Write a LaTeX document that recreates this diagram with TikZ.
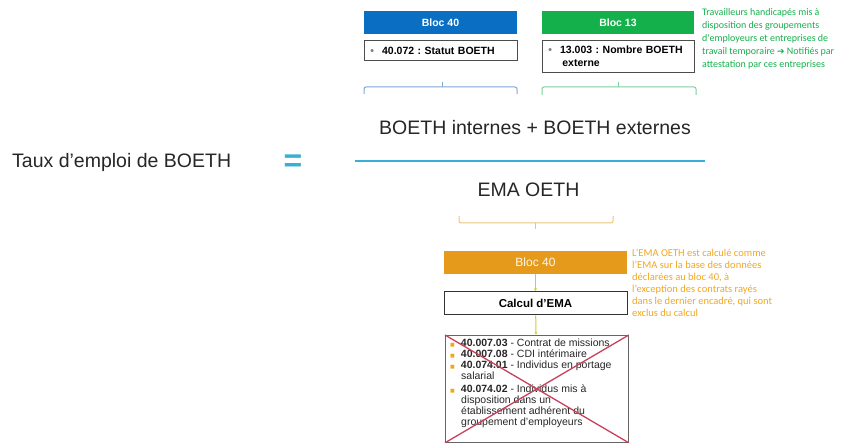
\documentclass[tikz,border=0pt]{standalone}
\usepackage{fontspec}
\setmainfont{Liberation Sans}
\newfontfamily\notefont{Carlito}
\newfontfamily\symbfont{DejaVu Sans}
\usetikzlibrary{positioning, arrows.meta}
\definecolor{bleu}{HTML}{0A6FC2}
\definecolor{vert}{HTML}{13B04B}
\definecolor{orange}{HTML}{E59A1C}
\definecolor{orangetxt}{HTML}{F2A61E}
\definecolor{ciel}{HTML}{3AAFD6}
\definecolor{accbleu}{HTML}{7FA6CF}
\definecolor{accvert}{HTML}{7CCF9C}
\definecolor{accorange}{HTML}{EDC47A}
\definecolor{fleche}{HTML}{C9D32A}
\definecolor{rouge}{HTML}{C9405A}
\newcommand{\puce}{\textcolor{orangetxt}{\symbfont\fontsize{5}{5}\selectfont ■}}
\frenchspacing

\begin{document}
\begin{tikzpicture}[x=1pt, y=-1pt,
  header/.style = {fill=#1, text=white, font=\fontsize{10.5}{12}\selectfont\bfseries, minimum height=23pt, inner sep=0pt},
  item/.style = {draw=black!70, line width=0.8pt, font=\fontsize{10.5}{12.5}\selectfont\bfseries, align=left, inner sep=0pt, anchor=north west},
  formule/.style = {font=\fontsize{19.5}{22}\selectfont, text=black!85},
  note/.style = {font=\notefont\fontsize{10}{13}\selectfont, text=#1, align=left, anchor=north west, inner sep=0pt},
  accolade/.style = {draw=#1, line width=1pt, rounded corners=2pt},
  arr/.style = {draw=fleche, line width=1pt, -{Latex[length=3pt,width=3pt]}}]
  \useasboundingbox (0,0) rectangle (849,443);
  % numerateur : blocs 40 et 13
  \node[header=bleu, minimum width=153pt] (bloc40) at (440.5,22.5) {Bloc 40};
  \node[item, text width=153pt, minimum height=20pt] (statut) at (364,40) {\hspace{6pt}\textcolor{black!50}{\textbullet}\hspace{8pt}40.072 : Statut BOETH};
  \node[header=vert, minimum width=152pt] (bloc13) at (618,22.5) {Bloc 13};
  \node[item, text width=152pt, minimum height=32pt] (externe) at (542,40) {\hspace{6pt}\textcolor{black!50}{\textbullet}\hspace{8pt}13.003 : Nombre BOETH\\\hspace{20pt}externe};
  \node[note=vert] (notevert) at (702,8) {Travailleurs handicapés mis à\\disposition des groupements\\d'employeurs et entreprises de\\travail temporaire {\symbfont\fontsize{9}{9}\selectfont ➔} Notifiés par\\attestation par ces entreprises};
  \draw[accolade=accbleu] (364,94) |- (517,87) -- (517,94);
  \draw[accbleu, line width=1pt] (442,87) -- (442,82);
  \draw[accolade=accvert] (542,95) |- (696,87) -- (696,95);
  \draw[accvert, line width=1pt] (618,87) -- (618,82);
  % formule
  \node[formule, anchor=west, inner sep=0pt] (taux) at (12,162) {Taux d’emploi de BOETH};
  \node[text=ciel, font=\fontsize{32}{32}\selectfont\bfseries, inner sep=0pt] (egal) at (293,163) {=};
  \node[formule] (num) at (535,128) {BOETH internes + BOETH externes};
  \coordinate (fracg) at (355,161);
  \coordinate (fracd) at (705,161);
  \draw[ciel, line width=1.3pt] (fracg) -- (fracd);
  \node[formule] (denom) at (528.5,190) {EMA OETH};
  \draw[accolade=accorange] (459,216) |- (613,223) -- (613,216);
  \draw[accorange, line width=1pt] (535,223) -- (535,229);
  % denominateur : calcul de l'EMA
  \node[fill=orange, text=white!92!orange, font=\fontsize{12}{14}\selectfont, minimum width=183pt, minimum height=23pt, inner sep=0pt] (bloc40o) at (535.5,262.5) {Bloc 40};
  \node[draw=black!80, line width=1pt, font=\fontsize{11.5}{13}\selectfont\bfseries, minimum width=183pt, minimum height=23pt, inner sep=0pt] (calcul) at (535.5,303.5) {Calcul d’EMA};
  \node[note=orangetxt, font=\notefont\fontsize{10.5}{12}\selectfont] (noteorange) at (632,249) {L’EMA OETH est calculé comme\\l’EMA sur la base des données\\déclarées au bloc 40, à\\l’exception des contrats rayés\\dans le dernier encadré, qui sont\\exclus du calcul};
  \node[draw=black!60, line width=0.8pt, anchor=north west, minimum width=183pt, minimum height=107pt, inner sep=0pt] (exclus) at (445,335) {};
  \node[anchor=north west, inner sep=0pt, align=left, font=\fontsize{10.5}{11}\selectfont, text=black!85] (liste) at (450,339) {%
    \puce\hspace{6pt}\textbf{40.007.03} - Contrat de missions\\
    \puce\hspace{6pt}\textbf{40.007.08} - CDI intérimaire\\
    \puce\hspace{6pt}\textbf{40.074.01} - Individus en portage\\
    \hspace{11pt}salarial\\[2pt]
    \puce\hspace{6pt}\textbf{40.074.02} - Individus mis à\\
    \hspace{11pt}disposition dans un\\
    \hspace{11pt}établissement adhérent du\\
    \hspace{11pt}groupement d’employeurs};
  \draw[rouge, line width=1.3pt] (exclus.north west) -- (exclus.south east);
  \draw[rouge, line width=1.3pt] (exclus.north east) -- (exclus.south west);
  \draw[arr] (bloc40o) -- (calcul);
  \draw[arr] (calcul) -- (exclus);
\end{tikzpicture}
\end{document}
